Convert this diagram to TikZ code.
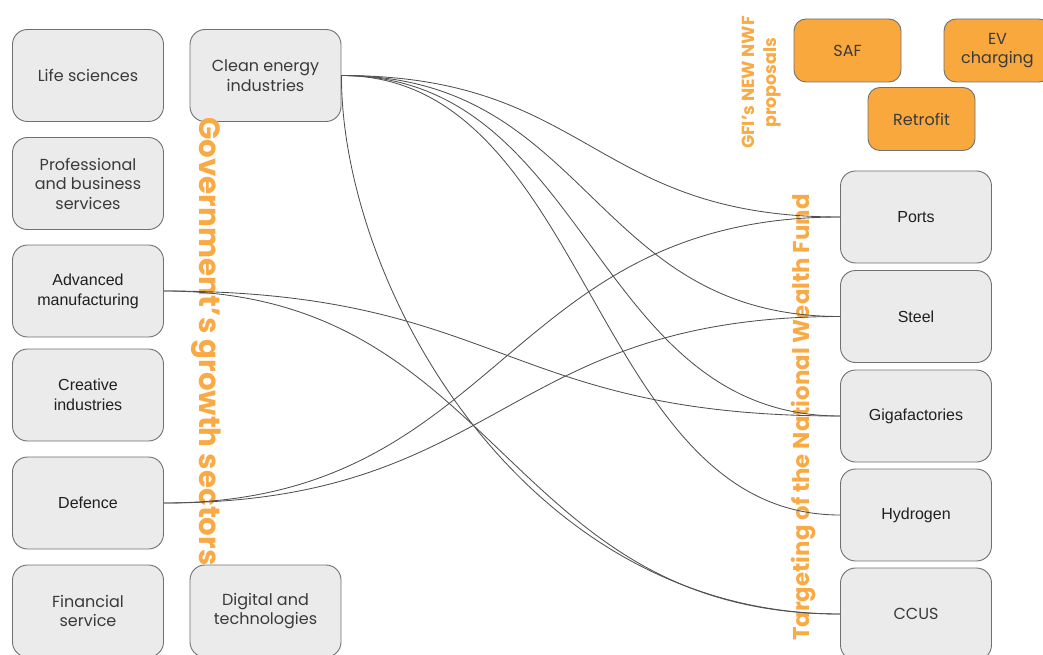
\documentclass[tikz,border=0pt]{standalone}
\usepackage{fontspec}
\setmainfont{Poppins}
\newfontfamily\arialf{Liberation Sans}
\usetikzlibrary{calc}
\definecolor{boxfill}{HTML}{EBEBEB}
\definecolor{boxline}{HTML}{707070}
\definecolor{orfill}{HTML}{F9A83D}
\definecolor{ortext}{HTML}{FAAA45}
\definecolor{txtp}{HTML}{3A3A3A}
\definecolor{txta}{HTML}{202020}
\definecolor{linkc}{HTML}{505050}
\tikzset{
  sector/.style={draw=boxline, line width=0.9pt, fill=boxfill, rounded corners=15pt,
    minimum width=151pt, minimum height=92pt, inner sep=0pt, align=center, text=txtp,
    font=\fontsize{16}{19.5}\selectfont},
  sectora/.style={sector, text=txta, font=\arialf\fontsize{16}{20}\selectfont},
  proposal/.style={draw=boxline, line width=0.9pt, fill=orfill, rounded corners=12pt,
    minimum width=107pt, minimum height=63pt, inner sep=0pt, align=center, text=txtp,
    font=\fontsize{16}{19.5}\selectfont},
  title/.style={text=ortext, inner sep=0pt, align=center},
  link/.style={draw=linkc, line width=0.85pt,
    to path={let \p1=(\tikztostart), \p2=(\tikztotarget) in
      .. controls ({(\x1+\x2)/2},\y1) and ({(\x1+\x2)/2},\y2) .. (\tikztotarget)}}
}
\begin{document}
\begin{tikzpicture}[x=1pt,y=-1pt]
\useasboundingbox (0,0) rectangle (1043,655);
% left column
\node[sector] (life) at (88,75.5) {Life sciences};
\node[sector] (prof) at (88,183.5) {Professional\\and business\\services};
\node[sectora] (adv) at (88,291) {Advanced\\manufacturing};
\node[sectora] (crea) at (88,395) {Creative\\industries};
\node[sectora] (def) at (88,503) {Defence};
\node[sector] (fin) at (88,611) {Financial\\service};
% second column
\node[sector] (clean) at (265.5,75.5) {Clean energy\\industries};
\node[sector] (dig) at (265.5,611) {Digital and\\technologies};
% right column
\node[sectora] (ports) at (916,217) {Ports};
\node[sectora] (steel) at (916,316.5) {Steel};
\node[sectora] (giga) at (916,416) {Gigafactories};
\node[sectora] (hyd) at (916,515) {Hydrogen};
\node[sector] (ccus) at (916,614) {CCUS};
% proposals
\node[proposal] (saf) at (847.5,50.5) {SAF};
\node[proposal] (ev) at (997.5,50.5) {EV\\charging};
\node[proposal] (retro) at (921.5,119) {Retrofit};
% titles
\node[title, rotate=-90, font=\bfseries\fontsize{29.3}{32}\selectfont] (gov) at (206,341.5) {Government’s growth sectors};
\node[title, rotate=90, font=\bfseries\fontsize{22.9}{26}\selectfont] (nwf) at (803,417.5) {Targeting of the National Wealth Fund};
\node[title, rotate=90, font=\bfseries\fontsize{17.5}{22}\selectfont] (gfi) at (762,82.5) {GFI’s NEW NWF\\proposals};
% connectors
\draw[link] (clean.east) to (ports.west);
\draw[link] (clean.east) to (steel.west);
\draw[link] (clean.east) to (giga.west);
\draw[link] (clean.east) to (hyd.west);
\draw[draw=linkc, line width=0.85pt] (clean.east) .. controls (341,281) and (520,614) .. (ccus.west);
\draw[link] (adv.east) to (giga.west);
\draw[link] (adv.east) to (ccus.west);
\draw[link] (def.east) to (ports.west);
\draw[link] (def.east) to (steel.west);
\end{tikzpicture}
\end{document}
